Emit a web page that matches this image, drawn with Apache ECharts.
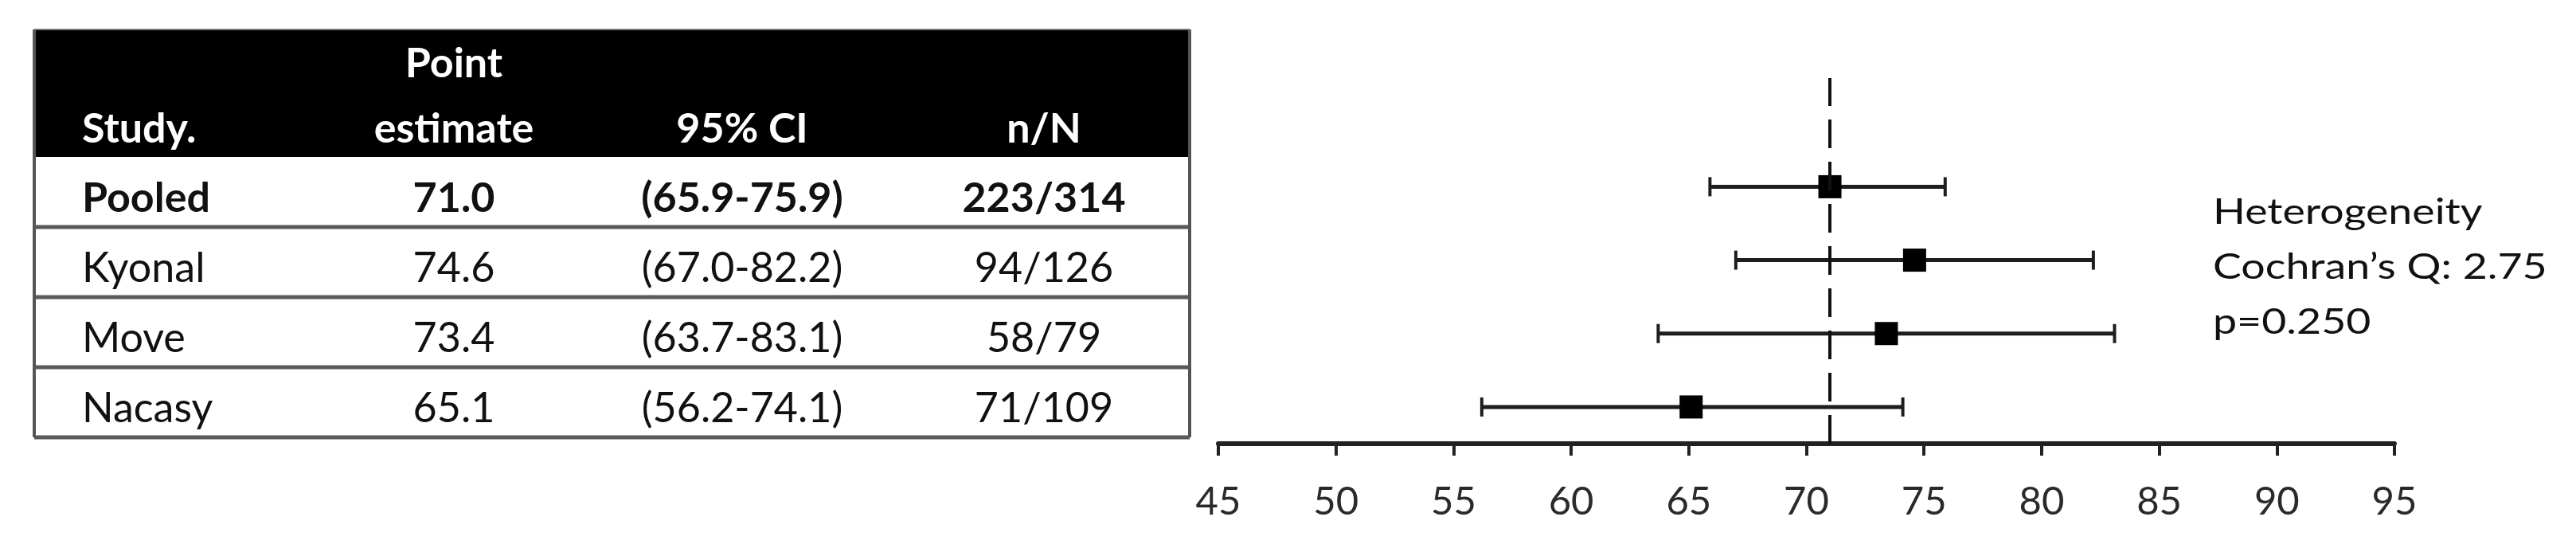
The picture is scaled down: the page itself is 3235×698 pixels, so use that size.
<!DOCTYPE html>
<html>
<head>
<meta charset="utf-8">
<script src="https://cdn.jsdelivr.net/npm/echarts@6/dist/echarts.min.js"></script>
<style>
  html, body { margin: 0; padding: 0; background: #fff; }
  #main { width: 3235px; height: 698px; }
</style>
</head>
<body>
<div id="main"></div>
<script>
// data
let studies = ['Pooled', 'Kyonal', 'Move', 'Nacasy'];
let pointEst = [71.0, 74.6, 73.4, 65.1];
let ciLow = [65.9, 67.0, 63.7, 56.2];
let ciHigh = [75.9, 82.2, 83.1, 74.1];
let nEvents = [223, 94, 58, 71];
let nTotal = [314, 126, 79, 109];
let pooledLine = 71.0;
let headerTop = ['', 'Point', '', ''];
let headerBottom = ['Study.', 'estimate', '95% CI', 'n/N'];
let heteroLines = ['Heterogeneity', 'Cochran\u2019s Q: 2.75', 'p=0.250'];
let xMin = 45, xMax = 95, xStep = 5;

let myChart = echarts.init(document.getElementById('main'));

// table layout
let tLeft = 43, tRight = 1494, tTop = 37, hBottom = 197, rowH = 88;
let colCenter = [null, 570, 932, 1311];
let studyX = 103;
let font = 'Lato';

function buildTable() {
    let els = [];
    els.push({
        type: 'rect',
        shape: {x: tLeft, y: tTop, width: tRight - tLeft, height: hBottom - tTop},
        style: {fill: '#000'}
    });
    // header text
    for (let c = 0; c < 4; c++) {
        let x = c === 0 ? studyX : colCenter[c];
        let align = c === 0 ? 'left' : 'center';
        if (headerTop[c]) {
            els.push({type: 'text', x: x, y: 80, style: {
                text: headerTop[c], fill: '#fff', font: 'bold 52px ' + font,
                align: align, verticalAlign: 'middle'}});
        }
        els.push({type: 'text', x: x, y: 162, style: {
            text: headerBottom[c], fill: '#fff', font: 'bold 52px ' + font,
            align: align, verticalAlign: 'middle'}});
    }
    // rows
    for (let i = 0; i < studies.length; i++) {
        let top = hBottom + i * rowH;
        let y = top + 52;
        let weight = i === 0 ? 'bold ' : '';
        let cells = [
            studies[i],
            pointEst[i].toFixed(1),
            '(' + ciLow[i].toFixed(1) + '-' + ciHigh[i].toFixed(1) + ')',
            nEvents[i] + '/' + nTotal[i]
        ];
        for (let c = 0; c < 4; c++) {
            els.push({type: 'text', x: c === 0 ? studyX : colCenter[c], y: y, style: {
                text: cells[c], fill: '#111', font: weight + '52px ' + font,
                align: c === 0 ? 'left' : 'center', verticalAlign: 'middle'}});
        }
        els.push({type: 'line', shape: {x1: tLeft, y1: top + rowH, x2: tRight, y2: top + rowH},
            style: {stroke: '#5a5a5a', lineWidth: 5}});
    }
    let tBottom = hBottom + studies.length * rowH;
    els.push({type: 'line', shape: {x1: tLeft, y1: tTop, x2: tLeft, y2: tBottom},
        style: {stroke: '#555', lineWidth: 4}});
    els.push({type: 'line', shape: {x1: tRight, y1: tTop, x2: tRight, y2: tBottom},
        style: {stroke: '#555', lineWidth: 4}});
    els.push({type: 'line', shape: {x1: tLeft, y1: tTop, x2: tRight, y2: tTop},
        style: {stroke: '#777', lineWidth: 2}});
    // heterogeneity note
    for (let k = 0; k < heteroLines.length; k++) {
        els.push({type: 'text', x: 2779, y: 267 + k * 69, scaleX: 1.22, style: {
            text: heteroLines[k], fill: '#111', font: '44px ' + font,
            align: 'left', verticalAlign: 'middle'}});
    }
    return els;
}

// y position of each study: Pooled on top
let barData = studies.map(function (s, i) {
    return [ciLow[i], ciHigh[i], studies.length - i];
});
let pointData = studies.map(function (s, i) {
    return [pointEst[i], studies.length - i];
});

function renderBar(params, api) {
    let y = api.value(2);
    let lo = api.coord([api.value(0), y]);
    let hi = api.coord([api.value(1), y]);
    let cap = 12;
    let st = {stroke: '#1e1e1e', lineWidth: 5};
    let capSt = {stroke: '#1e1e1e', lineWidth: 4};
    return {
        type: 'group',
        children: [
            {type: 'line', shape: {x1: lo[0], y1: lo[1], x2: hi[0], y2: hi[1]}, style: st},
            {type: 'line', shape: {x1: lo[0], y1: lo[1] - cap, x2: lo[0], y2: lo[1] + cap}, style: capSt},
            {type: 'line', shape: {x1: hi[0], y1: hi[1] - cap, x2: hi[0], y2: hi[1] + cap}, style: capSt}
        ]
    };
}

let option = {
    animation: false,
    backgroundColor: '#fff',
    grid: {left: 1530, right: 228, top: 98, bottom: 141},
    xAxis: {
        type: 'value',
        min: xMin,
        max: xMax,
        interval: xStep,
        axisLine: {show: true, lineStyle: {color: '#222', width: 6}},
        axisTick: {show: true, length: 15, lineStyle: {color: '#222', width: 4}},
        axisLabel: {color: '#2a2a2a', fontSize: 49, fontFamily: font, margin: 49},
        splitLine: {show: false}
    },
    yAxis: {
        type: 'value',
        min: 0.5,
        max: 5.48,
        show: false
    },
    graphic: buildTable(),
    series: [
        {
            type: 'custom',
            renderItem: renderBar,
            data: barData,
            z: 2
        },
        {
            type: 'scatter',
            data: pointData,
            symbol: 'rect',
            symbolSize: 29,
            itemStyle: {color: '#000', opacity: 1},
            z: 3,
            markLine: {
                silent: true,
                symbol: 'none',
                label: {show: false},
                lineStyle: {color: '#111', width: 4, type: [36, 17], opacity: 1},
                data: [{xAxis: pooledLine}]
            }
        }
    ]
};

myChart.setOption(option);
</script>
</body>
</html>
